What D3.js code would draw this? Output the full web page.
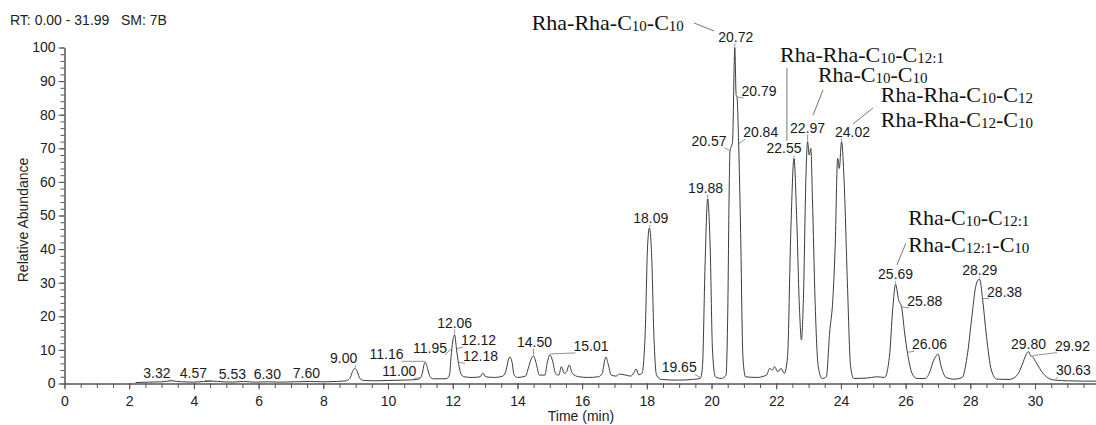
<!DOCTYPE html>
<html>
<head>
<meta charset="utf-8">
<script src="https://cdn.jsdelivr.net/npm/d3@7"></script>
<style>
  body { margin: 0; background: #fff; }
  svg { display: block; }
  .axis text { font-family: "Liberation Sans", Arial, sans-serif; font-size: 14px; fill: #222; }
  .axis path, .axis line { stroke: #555; stroke-width: 1; }
</style>
</head>
<body>
<div id="chart"></div>
<script>
// chromatogram trace: retention time (min) and relative abundance (%)
const traceTime = [
  2.2, 2.6, 3.0, 3.32, 3.6, 4.0, 4.3, 4.57, 4.9, 5.2, 5.53, 5.9, 6.3, 6.7, 7.1, 7.6, 8.0, 8.4, 8.7,
  8.82, 8.9, 8.97, 9.05, 9.13, 9.25, 9.6, 10.0, 10.5, 10.9, 11.0, 11.06, 11.12, 11.16, 11.22, 11.3, 11.4,
  11.8, 11.9, 11.95, 12.0, 12.06, 12.12, 12.18, 12.25, 12.35, 12.6, 12.85, 12.93, 13.02, 13.3, 13.55,
  13.65, 13.72, 13.77, 13.83, 13.9, 14.0, 14.25, 14.35, 14.42, 14.5, 14.58, 14.68, 14.85, 14.92, 15.0,
  15.08, 15.18, 15.28, 15.36, 15.45, 15.52, 15.6, 15.7, 15.9, 16.2, 16.5, 16.62, 16.7, 16.74, 16.8, 16.9,
  17.05, 17.15, 17.3, 17.5, 17.6, 17.67, 17.75, 17.85, 17.95, 18.02, 18.08, 18.15, 18.22, 18.3, 18.45,
  19.0, 19.4, 19.65, 19.72, 19.8, 19.88, 19.96, 20.03, 20.12, 20.3, 20.45, 20.5, 20.55, 20.57, 20.65,
  20.72, 20.76, 20.79, 20.84, 20.9, 20.97, 21.05, 21.4, 21.7, 21.8, 21.88, 21.95, 22.05, 22.15, 22.25,
  22.35, 22.45, 22.55, 22.63, 22.72, 22.78, 22.84, 22.92, 22.97, 23.02, 23.07, 23.12, 23.2, 23.3, 23.42,
  23.55, 23.65, 23.75, 23.82, 23.9, 23.95, 24.02, 24.1, 24.2, 24.3, 24.4, 24.8, 25.1, 25.35, 25.5, 25.6,
  25.69, 25.78, 25.88, 25.97, 26.06, 26.2, 26.35, 26.6, 26.75, 26.85, 26.93, 27.0, 27.1, 27.25, 27.5,
  27.75, 27.9, 28.05, 28.15, 28.24, 28.29, 28.38, 28.5, 28.65, 28.82, 29.2, 29.45, 29.6, 29.72, 29.8,
  29.86, 29.92, 30.05, 30.25, 30.5, 30.63, 31.0, 31.5, 31.99
];
const traceAbund = [
  0.3, 0.4, 0.5, 0.8, 0.5, 0.4, 0.6, 0.7, 0.5, 0.4, 0.6, 0.4, 0.5, 0.4, 0.5, 0.6, 0.5, 0.6, 0.8,
  1.5, 3.5, 4.5, 3.6, 1.5, 0.9, 0.8, 0.9, 1.0, 1.2, 1.6, 3.0, 5.8, 6.3, 4.5, 2.0, 1.4,
  1.4, 2.5, 8, 12.5, 14.5, 10, 6, 3.0, 2.0, 1.8, 2.0, 3.1, 2.0, 1.8, 2.2,
  4.0, 7.0, 7.9, 6.5, 2.5, 1.8, 2.2, 5.0, 7.2, 8.2, 6.0, 2.5, 2.5, 6.0, 8.5,
  7.0, 3.0, 2.5, 5.0, 3.0, 3.5, 5.5, 3.0, 2.0, 1.8, 2.0, 3.0, 7.0, 7.9, 6.0, 2.5,
  2.2, 2.8, 2.6, 2.2, 3.2, 4.3, 2.6, 3.0, 15, 40, 46.3, 38, 14, 2.5, 1.2,
  1.0, 1.2, 1.5, 5, 35, 55, 40, 10, 2, 1.5, 2.5, 20, 60, 69, 72,
  100, 86, 85, 71, 45, 8, 2, 1.8, 2.5, 4.5, 4.0, 5.0, 3.5, 4.5, 3.0,
  8, 45, 67, 50, 22, 13, 25, 62, 72, 68, 70, 55, 25, 5, 1.5,
  2, 15, 25, 40, 67, 64, 72, 60, 30, 5, 1.5, 1.6, 2.0, 1.8, 8, 22,
  29.5, 25, 22.5, 15, 9, 3, 1.5, 1.5, 3.5, 6.5, 8, 8.8, 5, 1.8, 1.3,
  1.8, 8, 20, 28, 30.8, 31, 25, 14, 4, 1.3, 1.2, 2.5, 5.5, 8.5, 9.5,
  8.3, 8.0, 6, 3, 1.2, 1.0, 0.8, 0.7, 0.7
];

// labelled peaks: retention time label and apex abundance
const peakLabels = [
  "3.32", "4.57", "5.53", "6.30", "7.60", "9.00", "11.00", "11.16", "11.95", "12.06", "12.12", "12.18",
  "14.50", "15.01", "18.09", "19.65", "19.88", "20.57", "20.72", "20.79", "20.84", "22.55", "22.97",
  "24.02", "25.69", "25.88", "26.06", "28.29", "28.38", "29.80", "29.92", "30.63"
];
const peakAbund = [
  0.7, 0.6, 0.5, 0.5, 0.6, 4.5, 1.5, 6.3, 10, 14.5, 10, 6,
  8.2, 8.5, 46.3, 1.5, 55, 69, 100, 85, 71, 67, 72,
  72, 29.5, 22.5, 9, 31, 25, 9.5, 8.0, 1.0
];

// label placement (pixel offset of the label from its peak apex)
const labelDx = [-15, -19, -11, -1, -4, -12, -21, -39, -21, 0, 22, 22,
  1, 41, 1, -21, -2, -21, 1, 22, 22, -10, 0,
  11, 0, 23, 22, 0, 22, 0, 40, 18];
const labelDy = [-3, -3, -3, -3, -3, -5, -2, -3, 3, -7, -5, -2,
  -9, -4, -5, -6, -6, -6, -6, -2, -8, -5, -9,
  -5, -5, -2, -4, -4.5, -3, -3, -6, -5];

// compound annotations ({..} = subscript), anchored in chart units
const compoundNames = [
  "Rha-Rha-C{10}-C{10}", "Rha-Rha-C{10}-C{12:1}", "Rha-C{10}-C{10}",
  "Rha-Rha-C{10}-C{12}", "Rha-Rha-C{12}-C{10}", "Rha-C{10}-C{12:1}", "Rha-C{12:1}-C{10}"
];
const compoundT = [14.44, 22.12, 23.29, 25.23, 25.23, 26.08, 26.08];
const compoundA = [105.2, 95.7, 89.7, 83.8, 76.3, 47.2, 39.1];
// leader lines [t1, a1, t2, a2]
const compoundLeaders = [
  [19.46, 107.3, 20.08, 104.9],
  [22.33, 93.9, 22.33, 72.2],
  [23.45, 87.4, 23.14, 79.9],
  [24.99, 82.0, 24.37, 77.2],
  [26.01, 41.8, 25.73, 35.3]
];

const width = 1096, height = 425;

const svg = d3.select("#chart").append("svg")
  .attr("width", width)
  .attr("height", height);

const x = d3.scaleLinear().domain([0, 31.99]).range([64.5, 1099.4]);
const y = d3.scaleLinear().domain([0, 100]).range([383.5, 47.5]);

// header
svg.append("text")
  .attr("x", 10).attr("y", 25)
  .attr("font-family", "Liberation Sans, Arial, sans-serif")
  .attr("font-size", 14).attr("fill", "#222")
  .style("white-space", "pre")
  .text("RT: 0.00 - 31.99   SM: 7B");

// x axis: minor ticks then major ticks with labels
svg.append("g")
  .attr("class", "axis")
  .attr("transform", "translate(0,383.5)")
  .call(d3.axisBottom(x).tickValues(d3.range(0, 32, 0.5)).tickSize(4.5).tickSizeOuter(0).tickFormat(""));
svg.append("g")
  .attr("class", "axis")
  .attr("transform", "translate(0,383.5)")
  .call(d3.axisBottom(x).tickValues(d3.range(0, 32, 2)).tickSize(6).tickSizeOuter(0).tickPadding(7).tickFormat(d3.format("d")));

// y axis
svg.append("g")
  .attr("class", "axis")
  .attr("transform", "translate(64.5,0)")
  .call(d3.axisLeft(y).tickValues(d3.range(0, 101, 2)).tickSize(4).tickSizeOuter(0).tickFormat(""));
svg.append("g")
  .attr("class", "axis")
  .attr("transform", "translate(64.5,0)")
  .call(d3.axisLeft(y).tickValues(d3.range(0, 101, 10)).tickSize(6).tickSizeOuter(0).tickPadding(3));

// axis titles
svg.append("text")
  .attr("x", 581).attr("y", 421)
  .attr("text-anchor", "middle")
  .attr("font-family", "Liberation Sans, Arial, sans-serif")
  .attr("font-size", 14).attr("fill", "#222")
  .text("Time (min)");
svg.append("text")
  .attr("transform", "translate(28,220) rotate(-90)")
  .attr("text-anchor", "middle")
  .attr("font-family", "Liberation Sans, Arial, sans-serif")
  .attr("font-size", 14).attr("fill", "#222")
  .text("Relative Abundance");

// trace
const trace = traceTime.map((t, i) => [t, traceAbund[i]]);
const line = d3.line()
  .x(d => x(d[0]))
  .y(d => y(d[1]))
  .curve(d3.curveMonotoneX);

svg.append("path")
  .datum(trace)
  .attr("fill", "none")
  .attr("stroke", "#3c3c3c")
  .attr("stroke-width", 1)
  .attr("d", line);

// peak labels with leaders
const peaks = peakLabels.map((lab, i) => ({
  lab, t: +lab, a: peakAbund[i], dx: labelDx[i], dy: labelDy[i]
}));

const pg = svg.append("g");
peaks.forEach(p => {
  const px = x(p.t), py = y(p.a);
  const lx = px + p.dx, ly = py + p.dy;
  const txt = pg.append("text")
    .attr("x", lx).attr("y", ly)
    .attr("text-anchor", "middle")
    .attr("font-family", "Liberation Sans, Arial, sans-serif")
    .attr("font-size", 14).attr("fill", "#1a1a1a")
    .text(p.lab);
  const w = txt.node().getComputedTextLength();
  const ex = Math.max(lx - w / 2 + 2, Math.min(lx + w / 2 - 2, px));
  const ey = ly + 2;
  pg.append("line")
    .attr("x1", px).attr("y1", py - 1)
    .attr("x2", ex).attr("y2", ey)
    .attr("stroke", "#777").attr("stroke-width", 0.8);
});

// compound annotations
const ag = svg.append("g")
  .attr("font-family", "Liberation Serif, Times New Roman, serif")
  .attr("fill", "#111");
compoundNames.forEach((name, i) => {
  const t = ag.append("text")
    .attr("x", x(compoundT[i]))
    .attr("y", y(compoundA[i]))
    .attr("font-size", 22);
  let sub = false;
  name.split(/(\{[^}]*\})/).filter(s => s.length).forEach(seg => {
    if (seg.startsWith("{")) {
      t.append("tspan").attr("font-size", 15).attr("dy", sub ? 0 : 1).text(seg.slice(1, -1));
      sub = true;
    } else {
      t.append("tspan").attr("dy", sub ? -1 : 0).text(seg);
      sub = false;
    }
  });
});

svg.append("g").selectAll("line")
  .data(compoundLeaders)
  .join("line")
  .attr("x1", d => x(d[0])).attr("y1", d => y(d[1]))
  .attr("x2", d => x(d[2])).attr("y2", d => y(d[3]))
  .attr("stroke", "#666").attr("stroke-width", 0.9);
</script>
</body>
</html>
